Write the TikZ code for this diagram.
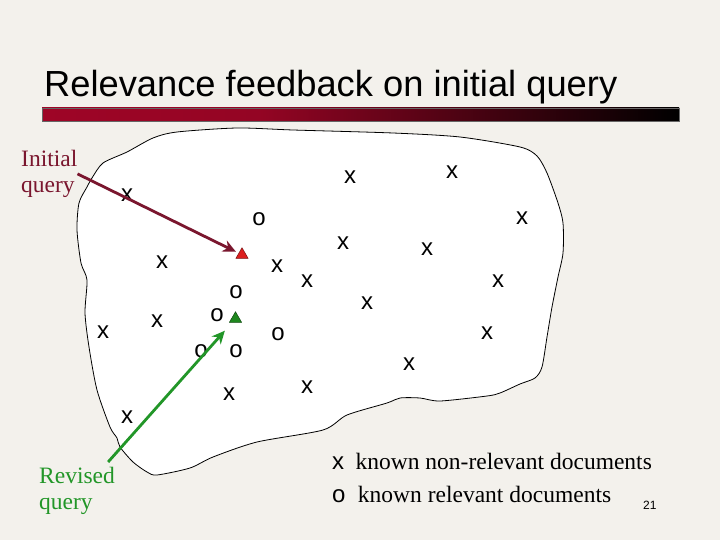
\documentclass[tikz,border=0pt]{standalone}
\usepackage{fontspec}
\setmainfont{Liberation Serif}
\setsansfont{Liberation Sans}
\usepackage{xcolor}
\usetikzlibrary{arrows.meta, positioning, shapes.geometric}

\definecolor{slidebg}{RGB}{243,241,236}
\definecolor{initred}{RGB}{122,22,46}
\definecolor{revgreen}{RGB}{34,150,40}
\definecolor{trired}{RGB}{220,30,30}
\definecolor{trigreen}{RGB}{30,135,30}
\pgfdeclarehorizontalshading{barshade}{100bp}{rgb(0bp)=(0.62,0.02,0.15); rgb(25bp)=(0.62,0.02,0.15); rgb(42bp)=(0.58,0.02,0.14); rgb(75bp)=(0,0,0); rgb(100bp)=(0,0,0)}

\begin{document}
\begin{tikzpicture}[
  x=1pt, y=-1pt,
  mk/.style={font=\sffamily\fontsize{24}{24}\selectfont, inner sep=0pt},
  lbl/.style={font=\fontsize{23.5}{26}\selectfont, align=left, inner sep=0pt},
  qtri/.style={regular polygon, regular polygon sides=3, draw=#1!55!black, fill=#1,
    minimum size=14pt, inner sep=0pt, line width=0.5pt},
  arr/.style={-{Stealth[length=13pt, width=12pt]}, line width=2.8pt}
]
  \fill[slidebg] (0,0) rectangle (720,540);

  \node[anchor=base west, inner sep=0pt, font=\sffamily\fontsize{36.3}{40}\selectfont] (title) at (44,97) {Relevance feedback on initial query};
  \shade[shading=barshade] (42,108) rectangle (679,121);
  \draw[black!60, line width=0.5pt] (42,108) rectangle (679,121);

  \draw[fill=white, line width=0.8pt] plot[smooth cycle, tension=0.45] coordinates {
    (237,128) (293,130) (393,133) (460,137) (520,147) (537,156) (547,173) (558,203)
    (563,223) (563,253) (558,277) (552,307) (547,337) (542,367) (535,378) (520,384)
    (500,393) (487,396) (440,401) (420,398) (400,398) (387,403) (347,415) (323,430)
    (257,442) (213,457) (190,468) (157,475) (147,472) (133,462) (120,447) (117,438)
    (110,427) (97,390) (89,347) (85,313) (87,280) (81,263) (77,230) (79,203)
    (87,187) (92,178) (103,163) (127,152) (153,138) (177,132)};

  \foreach \px/\py [count=\i] in {350/177, 452/172, 127/195, 522/218, 343/243, 427/249,
      162/262, 277/266, 307/281, 498/281, 367/303, 157/321, 103/332, 487/333,
      409/364, 229/394, 307/387, 127/417}
    \node[mk] (x\i) at (\px,\py) {x};
  \foreach \px/\py [count=\i] in {259/219, 236/292, 217/315, 278/334, 201/351, 236/351}
    \node[mk] (o\i) at (\px,\py) {o};

  \node[qtri=trired] (qold) at (242,254.75) {};
  \node[qtri=trigreen] (qnew) at (235.5,318.75) {};

  \node[lbl, text=initred, anchor=north west] (initq) at (21,150) {Initial\\query};
  \node[lbl, text=revgreen, anchor=north west] (revq) at (39,467) {Revised\\query};

  \draw[arr, initred, shorten >=3pt] (initq.east) -- (qold);
  \draw[arr, revgreen, shorten >=11pt] ([shift={(-7,-5)}]revq.north east) -- (qnew);

  \node[mk, anchor=base west] (legx) at (332,469) {x};
  \node[lbl, right=11pt of legx.base east, anchor=base west] (legxt) {known non-relevant documents};
  \node[mk, anchor=base west] (lego) at (332,502) {o};
  \node[lbl, right=12pt of lego.base east, anchor=base west] (legot) {known relevant documents};

  \node[anchor=base west, inner sep=0pt, font=\sffamily\fontsize{12}{12}\selectfont] (pageno) at (643,509) {21};
\end{tikzpicture}
\end{document}
